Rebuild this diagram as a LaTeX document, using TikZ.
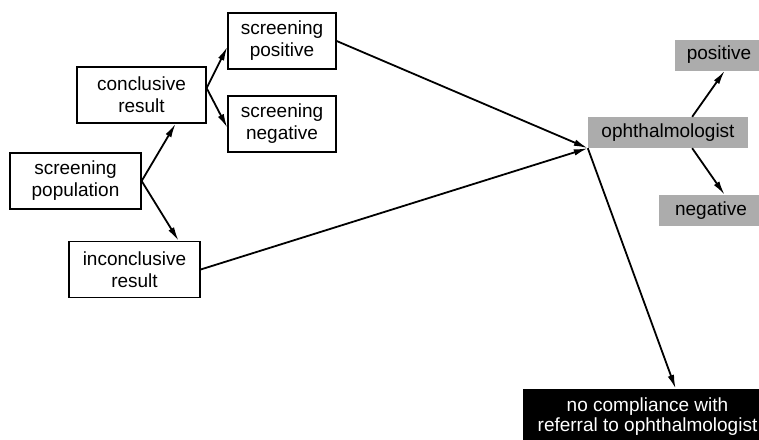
\documentclass[tikz,border=0pt]{standalone}
\usepackage{fontspec}
\setmainfont{Liberation Sans}
\usetikzlibrary{arrows.meta}
\begin{document}
\begin{tikzpicture}[x=1pt,y=-1pt]
% Styles
\tikzstyle{fleche}=[->,>={Latex[length=14pt,width=6.5pt]},line width=1.8pt]
\tikzstyle{boite}=[draw,line width=1.3pt,align=center,inner sep=0pt,minimum height=56pt,font=\fontsize{19}{22}\selectfont]
\tikzstyle{grise}=[fill=gray!65,align=center,inner sep=0pt,minimum height=31pt,font=\fontsize{19}{22}\selectfont]
\tikzstyle{noire}=[fill=black,text=white,align=center,inner sep=0pt,minimum height=56pt,font=\fontsize{19}{20}\selectfont]
% Dimensions
\def\LargeurA{131pt}
\def\LargeurB{108pt}
% Cadre
\useasboundingbox (0,0) rectangle (759,439);
% Noeuds
\node[boite,minimum width=\LargeurA] (Pop) at (75.5,181) {screening\\population};
\node[boite,minimum width=129pt] (Conc) at (141.5,95) {conclusive\\result};
\node[boite,minimum width=\LargeurA] (Inc) at (134.5,269.5) {inconclusive\\result};
\node[boite,minimum width=\LargeurB] (Pos) at (282,41) {screening\\positive};
\node[boite,minimum width=\LargeurB] (Neg) at (282,124) {screening\\negative};
\node[grise,minimum width=160pt] (Oph) at (668,132.5) {ophthalmologist};
\node[grise,minimum width=88pt] (OphPos) at (719,55) {positive};
\node[grise,minimum width=104pt] (OphNeg) at (711,210.5) {negative};
\node[noire,minimum width=249pt] (NoComp) at (647.5,417) {no compliance with\\referral to ophthalmologist};
% Arcs
\draw[fleche] (Pop.east)--(Conc.-40);
\draw[fleche] (Pop.east)--(Inc.33);
\draw[fleche] (Conc.6)--(Pos.-174);
\draw[fleche] (Conc.6)--(Neg.-176);
\draw[fleche] (Pos.east)--(Oph.south west);
\draw[fleche] (Inc.east)--(Oph.south west);
\draw[fleche] (Oph.south west)--(NoComp.45);
\draw[fleche] (Oph.33)--(OphPos.-70);
\draw[fleche] (Oph.-33)--(OphNeg.49);
\end{tikzpicture}
\end{document}
